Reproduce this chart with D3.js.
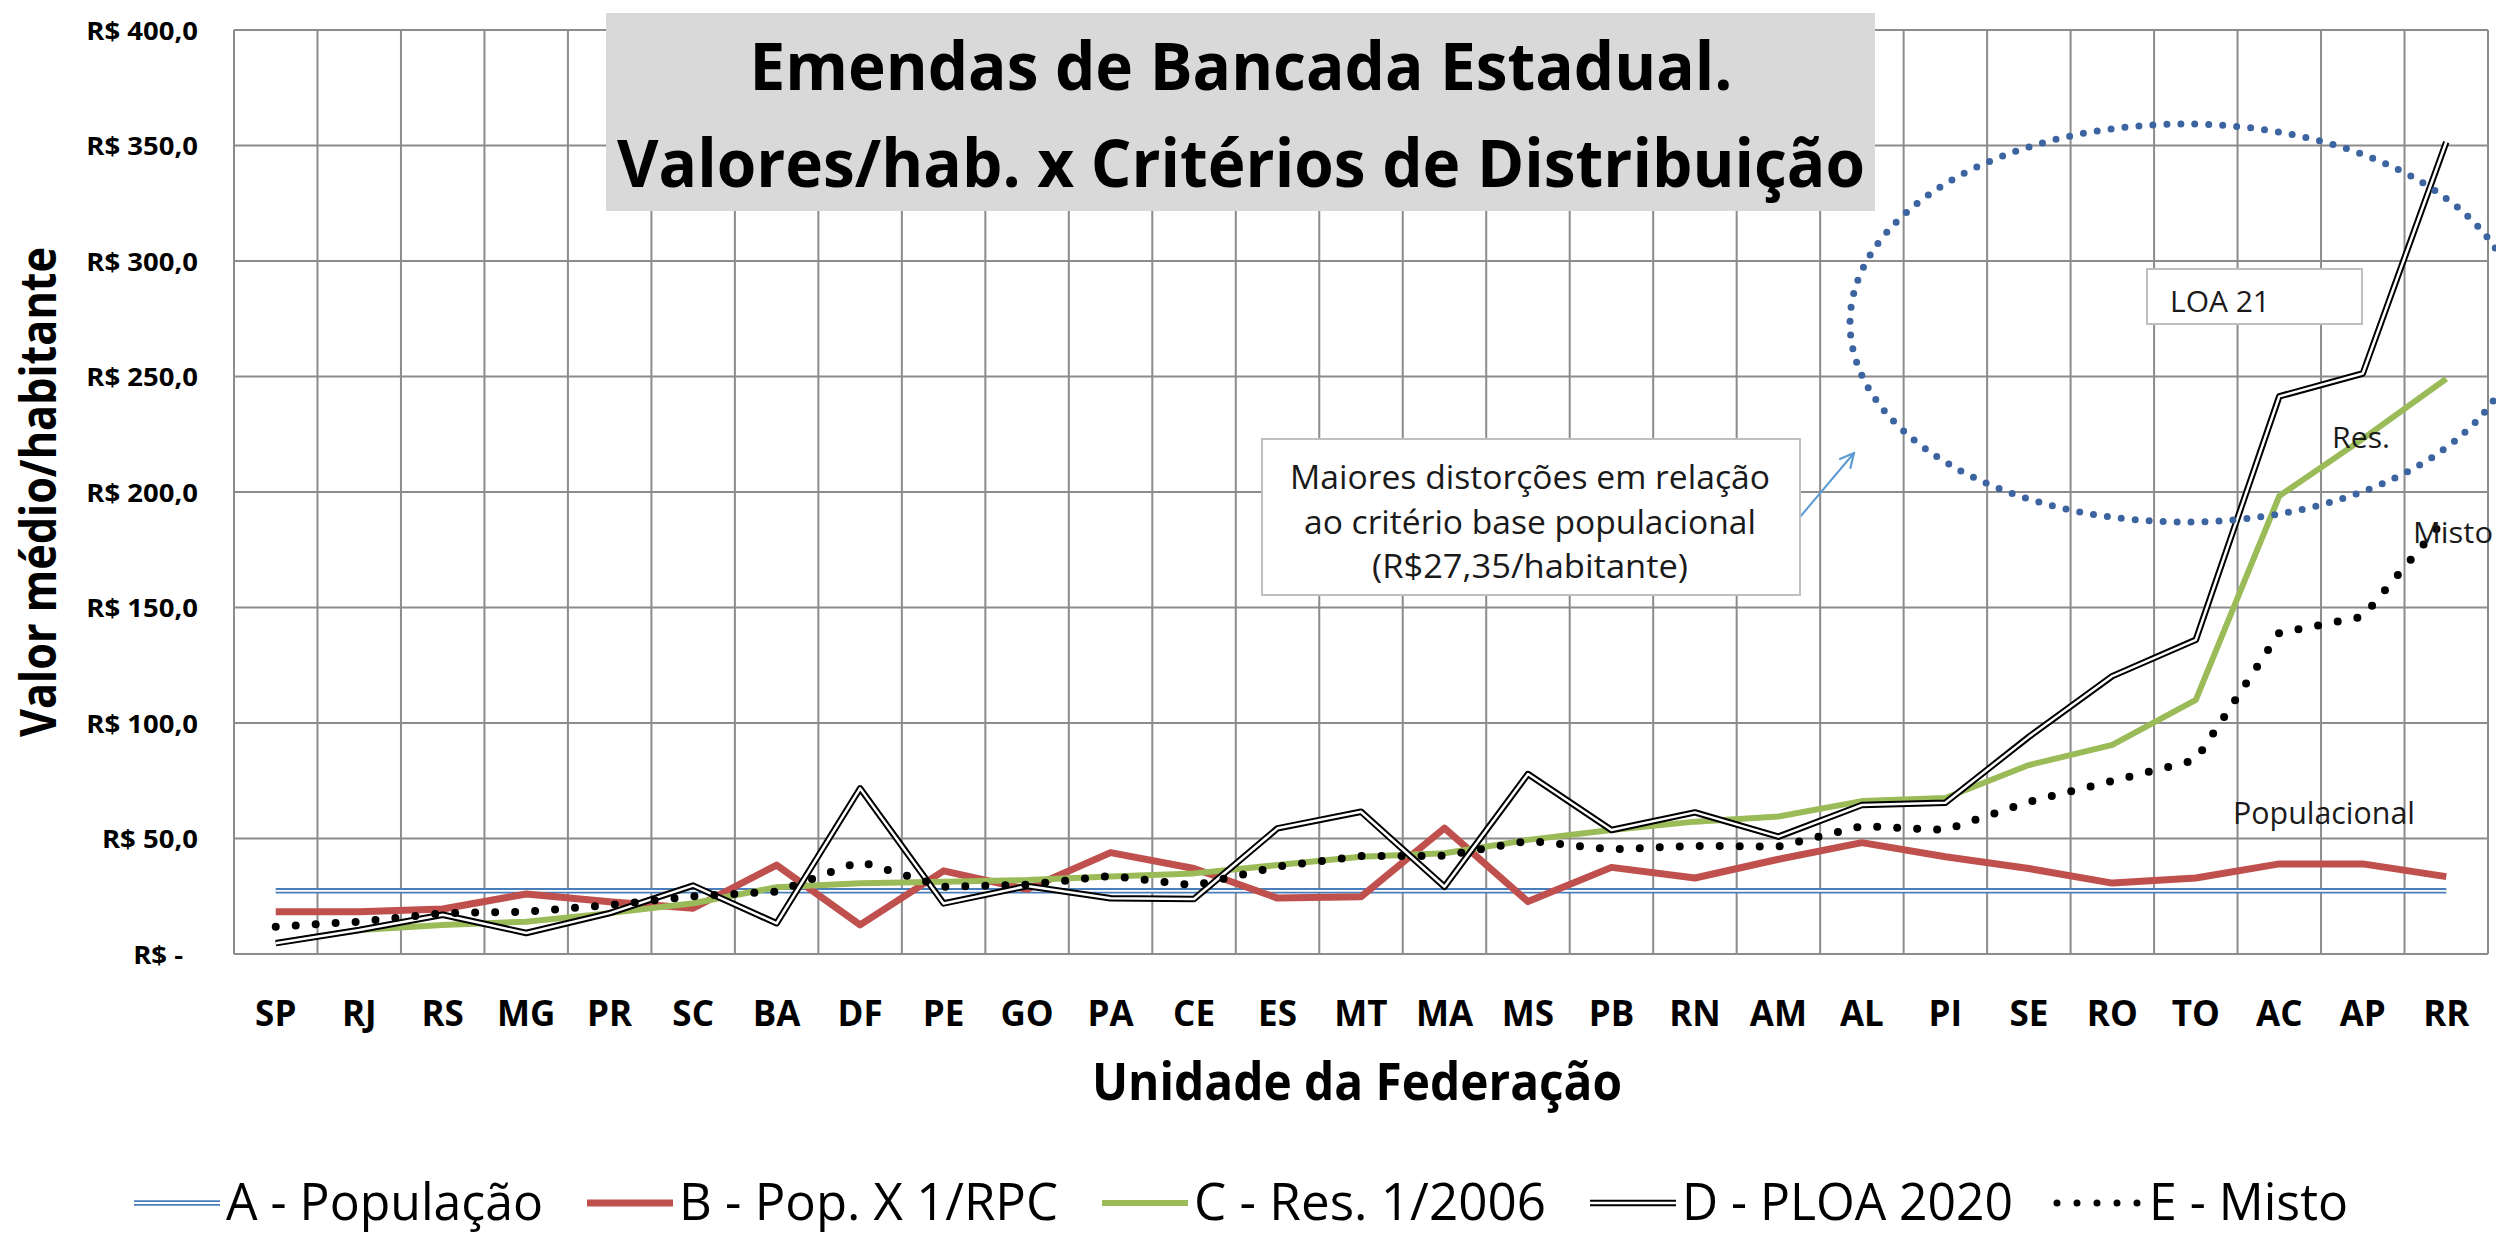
<!DOCTYPE html>
<html>
<head>
<meta charset="utf-8">
<script src="https://cdn.jsdelivr.net/npm/d3@7"></script>
<style>
  body { margin: 0; background: #fff; }
  svg { display: block; font-family: 'Open Sans', 'Noto Sans', sans-serif; }
</style>
</head>
<body>
<svg id="chart" width="2496" height="1239"></svg>
<script>
// Unidades da Federação
const states = ['SP', 'RJ', 'RS', 'MG', 'PR', 'SC', 'BA', 'DF', 'PE', 'GO', 'PA', 'CE', 'ES', 'MT',
    'MA', 'MS', 'PB', 'RN', 'AM', 'AL', 'PI', 'SE', 'RO', 'TO', 'AC', 'AP', 'RR'];

// R$ por habitante
const populacao = [27.35, 27.35, 27.35, 27.35, 27.35, 27.35, 27.35, 27.35, 27.35, 27.35, 27.35, 27.35, 27.35, 27.35,
    27.35, 27.35, 27.35, 27.35, 27.35, 27.35, 27.35, 27.35, 27.35, 27.35, 27.35, 27.35, 27.35];
const popRpc = [18.3, 18.3, 19.5, 26.0, 22.6, 19.8, 38.5, 12.6, 36.0, 28.0, 43.9, 37.0, 24.2, 24.8,
    54.5, 22.7, 37.5, 32.9, 41.0, 48.2, 42.1, 37.0, 30.7, 32.9, 39.0, 39.0, 33.5];
const res2006 = [4.7, 10.4, 12.6, 14.0, 17.7, 22.0, 28.9, 30.6, 31.3, 32.0, 33.5, 34.9, 38.5, 42.1,
    43.6, 49.4, 53.7, 57.3, 59.5, 66.2, 67.5, 81.8, 90.5, 110.0, 198.3, 223.0, 249.0];
const ploa2020 = [4.7, 10.4, 17.0, 9.1, 17.7, 29.6, 13.3, 71.7, 21.9, 29.4, 24.1, 23.8, 54.4, 61.6,
    29.1, 77.9, 53.7, 61.3, 50.8, 64.5, 65.5, 94.0, 120.3, 136.0, 241.4, 251.3, 351.5];
const misto = [11.8, 14.0, 17.7, 18.3, 21.2, 25.0, 27.0, 40.0, 29.1, 30.0, 33.8, 29.7, 37.8, 42.4,
    42.5, 49.0, 45.3, 46.8, 46.5, 55.4, 53.7, 65.9, 74.9, 84.0, 139.0, 146.0, 189.0];

const yTicks = [0, 50, 100, 150, 200, 250, 300, 350, 400];
const legendLabels = ['A - População', 'B - Pop. X 1/RPC', 'C - Res. 1/2006', 'D - PLOA 2020', 'E - Misto'];

const svg = d3.select('#chart');
const plot = {left: 234, right: 2488, top: 30, bottom: 954};
const gridColor = '#8c8c8c';

const x = d3.scaleBand().domain(states).range([plot.left, plot.right]);
const y = d3.scaleLinear().domain([0, 400]).range([plot.bottom, plot.top]);
const cx = d => x(d) + x.bandwidth() / 2;

// squeeze / stretch a text to a given width
function fit(sel, w) {
    sel.attr('textLength', w).attr('lengthAdjust', 'spacingAndGlyphs');
}
function scaleText(sel, k) {
    sel.each(function () {
        const w = this.getComputedTextLength();
        d3.select(this).attr('textLength', w * k).attr('lengthAdjust', 'spacingAndGlyphs');
    });
}

svg.append('rect').attr('width', 2496).attr('height', 1239).attr('fill', '#fff');

// grid
const grid = svg.append('g').attr('stroke', gridColor).attr('stroke-width', 2);
grid.selectAll('line.h')
    .data(yTicks)
    .join('line')
    .attr('class', 'h')
    .attr('x1', plot.left).attr('x2', plot.right)
    .attr('y1', d => y(d)).attr('y2', d => y(d));
grid.selectAll('line.v')
    .data(states.map(s => x(s)).concat(x.range()[1]))
    .join('line')
    .attr('class', 'v')
    .attr('x1', d => d).attr('x2', d => d)
    .attr('y1', plot.top).attr('y2', plot.bottom);

// y axis
const brl = d3.formatLocale({decimal: ',', thousands: '.', grouping: [3], currency: ['R$ ', '']});
const fmt = v => v === 0 ? 'R$ -' : brl.format('$.1f')(v);
svg.append('g')
    .attr('transform', 'translate(198,0)')
    .call(d3.axisLeft(y).tickValues(yTicks).tickFormat(fmt).tickSize(0).tickPadding(0))
    .call(g => g.select('.domain').remove())
    .selectAll('text')
    .attr('dy', null)
    .attr('y', 9)
    .attr('x', d => d === 0 ? -15 : 0)
    .attr('fill', '#000')
    .attr('font-family', "'Open Sans', sans-serif")
    .attr('font-size', 25)
    .attr('font-weight', 'bold')
    .call(scaleText, 1.1);

// x axis
svg.append('g')
    .attr('transform', `translate(0,${plot.bottom})`)
    .call(d3.axisBottom(x).tickSize(0))
    .call(g => g.select('.domain').remove())
    .selectAll('text')
    .attr('dy', null)
    .attr('y', 72)
    .attr('fill', '#000')
    .attr('font-family', "'Open Sans', sans-serif")
    .attr('font-size', 35)
    .attr('font-weight', 'bold');

// axis titles
svg.append('text')
    .attr('transform', 'translate(56,492) rotate(-90)')
    .attr('text-anchor', 'middle')
    .attr('font-size', 50)
    .attr('font-weight', 'bold')
    .text('Valor médio/habitante')
    .call(fit, 490);

svg.append('text')
    .attr('x', 1357).attr('y', 1100)
    .attr('text-anchor', 'middle')
    .attr('font-size', 52)
    .attr('font-weight', 'bold')
    .text('Unidade da Federação')
    .call(fit, 530);

// title box
svg.append('rect')
    .attr('x', 606).attr('y', 13)
    .attr('width', 1269).attr('height', 198)
    .attr('fill', '#d9d9d9');
const titleLines = ['Emendas de Bancada Estadual.', 'Valores/hab. x Critérios de Distribuição'];
svg.selectAll('text.title')
    .data(titleLines)
    .join('text')
    .attr('class', 'title')
    .attr('x', 1241)
    .attr('y', (d, i) => i === 0 ? 90 : 187)
    .attr('text-anchor', 'middle')
    .attr('font-size', 67)
    .attr('font-weight', 'bold')
    .text(d => d)
    .each(function (d, i) { d3.select(this).call(fit, i === 0 ? 983 : 1248); });

// series
const line = d3.line()
    .x((d, i) => cx(states[i]))
    .y(d => y(d));

const series = [
    {values: populacao, color: '#4a7ebb', width: 5.5, inner: 1.8},
    {values: popRpc, color: '#c0504d', width: 7},
    {values: res2006, color: '#9bbb59', width: 6},
    {values: ploa2020, color: '#000', width: 6.5, inner: 2.5},
    {values: misto, color: '#000', width: 8, dash: '0 20'}
];

const lines = svg.append('g').attr('fill', 'none').attr('stroke-linejoin', 'round');
series.forEach(s => {
    lines.append('path')
        .attr('d', line(s.values))
        .attr('stroke', s.color)
        .attr('stroke-width', s.width)
        .attr('stroke-dasharray', s.dash || null)
        .attr('stroke-linecap', s.dash ? 'round' : 'butt');
    if (s.inner) {
        lines.append('path')
            .attr('d', line(s.values))
            .attr('stroke', '#fff')
            .attr('stroke-width', s.inner);
    }
});

// annotations
svg.append('ellipse')
    .attr('cx', 2185).attr('cy', 323)
    .attr('rx', 335).attr('ry', 199)
    .attr('fill', 'none')
    .attr('stroke', '#3c64a0')
    .attr('stroke-width', 7)
    .attr('stroke-dasharray', '0 14')
    .attr('stroke-linecap', 'round');

svg.append('defs').append('marker')
    .attr('id', 'arrow')
    .attr('viewBox', '0 0 10 10')
    .attr('refX', 9).attr('refY', 5)
    .attr('markerWidth', 18).attr('markerHeight', 18)
    .attr('markerUnits', 'userSpaceOnUse')
    .attr('orient', 'auto')
    .append('path')
    .attr('d', 'M1,1 L9,5 L1,9')
    .attr('fill', 'none')
    .attr('stroke', '#5b9bd5')
    .attr('stroke-width', 1.2);

svg.append('line')
    .attr('x1', 1800).attr('y1', 517)
    .attr('x2', 1854).attr('y2', 453)
    .attr('stroke', '#5b9bd5')
    .attr('stroke-width', 2)
    .attr('marker-end', 'url(#arrow)');

svg.append('rect')
    .attr('x', 1262).attr('y', 439)
    .attr('width', 538).attr('height', 156)
    .attr('fill', '#fff')
    .attr('stroke', '#bfbfbf')
    .attr('stroke-width', 2);
const noteLines = ['Maiores distorções em relação', 'ao critério base populacional', '(R$27,35/habitante)'];
const noteWidths = [480, 452, 316];
svg.selectAll('text.note')
    .data(noteLines)
    .join('text')
    .attr('class', 'note')
    .attr('x', 1530)
    .attr('y', (d, i) => 489 + i * 44.5)
    .attr('text-anchor', 'middle')
    .attr('font-size', 33)
    .attr('fill', '#1a1a1a')
    .text(d => d)
    .each(function (d, i) { d3.select(this).call(fit, noteWidths[i]); });

svg.append('rect')
    .attr('x', 2147).attr('y', 269)
    .attr('width', 215).attr('height', 55)
    .attr('fill', '#fff')
    .attr('stroke', '#bfbfbf')
    .attr('stroke-width', 2);
svg.append('text')
    .attr('x', 2170).attr('y', 312)
    .attr('font-size', 29)
    .attr('fill', '#1a1a1a')
    .text('LOA 21')
    .call(fit, 100);

const tags = [
    {text: 'Res.', x: 2332, y: 448, size: 29, w: 58},
    {text: 'Misto', x: 2413, y: 543, size: 29, w: 80},
    {text: 'Populacional', x: 2233, y: 824, size: 31, w: 182}
];
tags.forEach(t => {
    svg.append('text')
        .attr('x', t.x).attr('y', t.y)
        .attr('font-size', t.size)
        .attr('fill', '#1a1a1a')
        .text(t.text)
        .call(fit, t.w);
});

// legend
const legendWidths = [317, 379, 352, 331, 199];
const legend = svg.append('g');
let lx = 134;
series.forEach((s, i) => {
    const ly = 1203;
    if (s.dash) {
        // five dots, like Excel's legend key
        legend.append('line')
            .attr('x1', lx).attr('x2', lx + 86)
            .attr('y1', ly).attr('y2', ly)
            .attr('stroke', s.color)
            .attr('stroke-width', 7)
            .attr('stroke-dasharray', '0 20')
            .attr('stroke-linecap', 'round');
    } else {
        legend.append('line')
            .attr('x1', lx).attr('x2', lx + 86)
            .attr('y1', ly).attr('y2', ly)
            .attr('stroke', s.color)
            .attr('stroke-width', s.width);
    }
    if (s.inner) {
        legend.append('line')
            .attr('x1', lx).attr('x2', lx + 86)
            .attr('y1', ly).attr('y2', ly)
            .attr('stroke', '#fff')
            .attr('stroke-width', s.inner);
    }
    legend.append('text')
        .attr('x', lx + 92).attr('y', 1220)
        .attr('font-size', 52)
        .attr('fill', '#000')
        .text(legendLabels[i])
        .call(fit, legendWidths[i]);
    lx += 92 + legendWidths[i] + 44;
});
</script>
</body>
</html>
